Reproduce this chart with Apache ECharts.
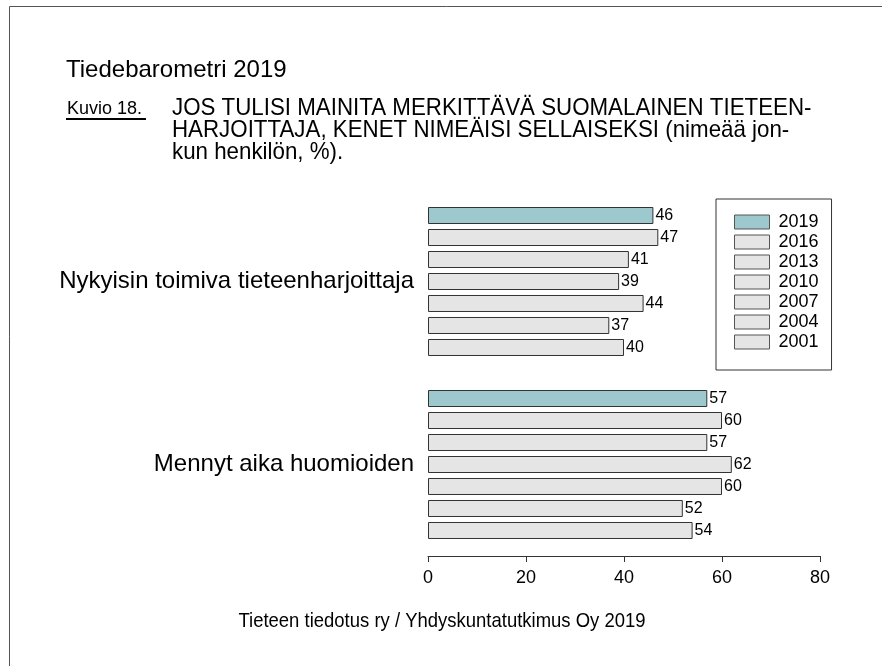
<!DOCTYPE html>
<html>
<head>
<meta charset="utf-8">
<script src="https://cdn.jsdelivr.net/npm/echarts@6/dist/echarts.min.js"></script>
<style>
  html, body { margin: 0; padding: 0; background: #fff; }
  #chart { width: 882px; height: 666px; }
</style>
</head>
<body>
<div id="chart"></div>
<script>
// kategoriat ja vuodet
var categories = ['Nykyisin toimiva tieteenharjoittaja', 'Mennyt aika huomioiden'];
var years = ['2019', '2016', '2013', '2010', '2007', '2004', '2001'];
// arvot vuosittain (%), järjestys kuten categories
var v2019 = [46, 57];
var v2016 = [47, 60];
var v2013 = [41, 57];
var v2010 = [39, 62];
var v2007 = [44, 60];
var v2004 = [37, 52];
var v2001 = [40, 54];
var xTicks = [0, 20, 40, 60, 80];

var values = [v2019, v2016, v2013, v2010, v2007, v2004, v2001];
var font = '"Liberation Sans", Arial, sans-serif';

var myChart = echarts.init(document.getElementById('chart'));

var series = [];
for (var i = 0; i < years.length; i++) {
    series.push({
        name: years[i],
        type: 'bar',
        data: values[i],
        barWidth: 17,
        barGap: '29.4%',
        itemStyle: {
            color: i === 0 ? '#9dc8ce' : '#e5e5e5',
            borderColor: '#333',
            borderWidth: 1
        },
        label: {
            show: true,
            position: 'right',
            distance: 2,
            fontSize: 16,
            color: '#000',
            fontFamily: font
        },
        silent: true,
        animation: false
    });
}

var option = {
    animation: false,
    textStyle: { fontFamily: font },
    grid: { left: 428, right: 62, top: 190, bottom: 110, containLabel: false },
    xAxis: {
        type: 'value',
        min: xTicks[0],
        max: xTicks[xTicks.length - 1],
        interval: 20,
        splitLine: { show: false },
        axisLine: { show: true, lineStyle: { color: '#333', width: 1 } },
        axisTick: { show: true, length: 6, lineStyle: { color: '#333' } },
        axisLabel: { fontSize: 18, color: '#000', margin: 13, fontFamily: font }
    },
    yAxis: {
        type: 'category',
        data: categories,
        inverse: true,
        axisLine: { show: false },
        axisTick: { show: false },
        axisLabel: { fontSize: 24, color: '#000', margin: 14, fontFamily: font }
    },
    legend: {
        data: years,
        orient: 'vertical',
        left: 716,
        top: 199,
        padding: [14, 13, 19, 18],
        icon: 'rect',
        itemWidth: 35,
        itemHeight: 14,
        itemGap: 2,
        borderColor: '#333',
        borderWidth: 1,
        selectedMode: false,
        itemStyle: { borderColor: '#555', borderWidth: 1 },
        textStyle: { fontSize: 18, color: '#000', fontFamily: font, padding: [0, 0, 0, 4] }
    },
    graphic: [
        // kehys
        { type: 'rect', shape: { x: 9.5, y: 6.5, width: 900, height: 700 },
          style: { fill: 'none', stroke: '#555', lineWidth: 1 }, silent: true },
        { type: 'text', x: 66, y: 58,
          style: { text: 'Tiedebarometri 2019', font: '24px ' + font, fill: '#000' } },
        { type: 'text', x: 67, y: 100,
          style: { text: 'Kuvio 18.', font: '18px ' + font, fill: '#000' } },
        { type: 'line', shape: { x1: 66, y1: 119, x2: 146, y2: 119 },
          style: { stroke: '#000', lineWidth: 2 } },
        { type: 'text', x: 172, y: 97, scaleX: 0.93,
          style: {
              text: 'JOS TULISI MAINITA MERKITTÄVÄ SUOMALAINEN TIETEEN-\nHARJOITTAJA, KENET NIMEÄISI SELLAISEKSI (nimeää jon-\nkun henkilön, %).',
              font: '24px ' + font, fill: '#000', lineHeight: 22 } },
        { type: 'text', x: 442, y: 621, scaleX: 0.88,
          style: { text: 'Tieteen tiedotus ry / Yhdyskuntatutkimus Oy 2019',
                   font: '21px ' + font, fill: '#000', align: 'center', verticalAlign: 'middle' } }
    ],
    series: series
};
myChart.setOption(option);
</script>
</body>
</html>
